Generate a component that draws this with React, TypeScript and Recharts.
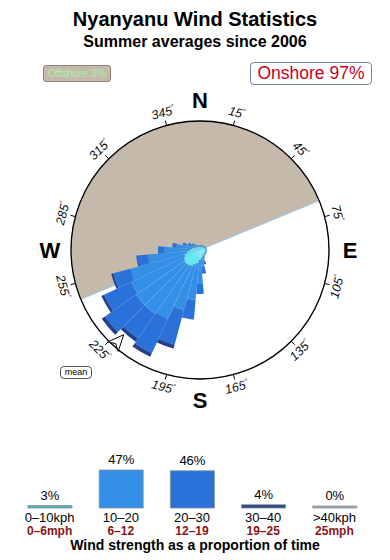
import React from 'react';
import {
  PieChart, Pie, Cell, RadialBarChart, RadialBar, PolarAngleAxis, PolarRadiusAxis,
  BarChart, Bar, XAxis, YAxis, LabelList,
} from 'recharts';

const FONT = '"Liberation Sans", Arial, Helvetica, sans-serif';

// ---- Wind rose data (percent of time per 10° direction, per speed bin) ----
const directions = [0, 10, 20, 30, 40, 50, 60, 70, 80, 90, 100, 110, 120, 130, 140, 150, 160, 170,
  180, 190, 200, 210, 220, 230, 240, 250, 260, 270, 280, 290, 300, 310, 320, 330, 340, 350];
const speed0to10 = [0.28, 0.28, 0.28, 0.33, 0.37, 0.37, 0.42, 0.47, 0.47, 0.47, 0.47, 0.47, 0.47, 0.47, 0.51, 0.56, 0.65, 0.74,
  0.93, 1.21, 1.40, 1.67, 1.77, 1.77, 1.67, 1.49, 1.21, 0.93, 0.74, 0.56, 0.47, 0.37, 0.37, 0.33, 0.28, 0.28];
const speed10to20 = [0.14, 0.14, 0.14, 0.09, 0.09, 0.09, 0.09, 0.09, 0.09, 0.14, 0.14, 0.14, 0.14, 0.14, 0.14, 0.19, 0.47, 0.74,
  2.23, 3.44, 4.37, 5.39, 5.49, 5.49, 5.39, 5.21, 3.63, 2.42, 1.49, 0.84, 0.47, 0.28, 0.19, 0.14, 0.14, 0.14];
const speed20to30 = [0.05, 0.05, 0.05, 0.05, 0.05, 0.05, 0.05, 0.05, 0.05, 0.05, 0.05, 0.05, 0.05, 0.05, 0.05, 0.09, 0.28, 0.74,
  0.93, 1.86, 3.35, 3.53, 2.79, 3.53, 2.79, 1.67, 1.02, 0.56, 0.37, 0.28, 0.28, 0.28, 0.09, 0.05, 0.05, 0.05];
const speed30to40 = [0, 0, 0, 0, 0, 0, 0, 0, 0, 0, 0, 0, 0, 0, 0, 0, 0, 0,
  0, 0, 0.37, 0.37, 0.37, 0.37, 0.28, 0.19, 0.09, 0, 0, 0, 0, 0, 0, 0, 0, 0];
const roseColors = ['#5ae6ef', '#3490e6', '#2a71d9', '#23408c'];
const roseMax = 12;

const roseData = directions.map((d, i) => ({
  dir: d,
  s1: speed0to10[i],
  s2: speed10to20[i],
  s3: speed20to30[i],
  s4: speed30to40[i],
}));

// ---- Offshore sector ----
const offshoreStartCompass = 247.5; // offshore half runs clockwise from 247.5° to 67.5°
const sectorSpans = [180, 180];
const sectorNames = ['Offshore', 'Onshore'];
const sectorColors = ['#c5b9ac', '#ffffff'];
const offshorePct = 3;
const onshorePct = 97;
const meanDirection = 222;

// ---- Compass labels ----
const degreeTicks = [15, 45, 75, 105, 135, 165, 195, 225, 255, 285, 315, 345];
const cardinalLabels = ['N', 'E', 'S', 'W'];

// ---- Speed distribution ----
const speedBinsKph = ['0–10kph', '10–20', '20–30', '30–40', '>40kph'];
const speedBinsMph = ['0–6mph', '6–12', '12–19', '19–25', '25mph'];
const speedShare = [3, 47, 46, 4, 0];
const speedColors = ['#4bb8b6', '#3490e6', '#2a72d9', '#2b4886', '#b0b0b0'];

const barData = speedBinsKph.map((k, i) => ({ kph: k, mph: speedBinsMph[i], share: speedShare[i] }));
const pieData = sectorSpans.map((v, i) => ({ name: sectorNames[i], value: v }));
const degreeData = degreeTicks.map((d) => ({ label: d, span: 30 }));
const cardinalData = cardinalLabels.map((c) => ({ label: c, span: 90 }));
const meanData = [{ label: 'mean', span: 2 }];

const CX = 200;
const CY = 170;
const R = 129;

const toXY = (cx: number, cy: number, r: number, mathAngle: number) => {
  const rad = (-mathAngle * Math.PI) / 180;
  return { x: cx + Math.cos(rad) * r, y: cy + Math.sin(rad) * r, ux: Math.cos(rad), uy: Math.sin(rad) };
};

function DegreeLabel(p: any) {
  const { cx, cy, midAngle, outerRadius, payload } = p;
  const v = payload.label as number;
  const compass = (((90 - midAngle) % 360) + 360) % 360;
  const rot = compass > 90 && compass < 270 ? compass - 180 : compass > 180 ? compass - 360 : compass;
  const a = toXY(cx, cy, outerRadius, midAngle);
  const b = toXY(cx, cy, outerRadius + 5, midAngle);
  const t = toXY(cx, cy, outerRadius + 13, midAngle);
  return (
    <g key={`deg-${v}`}>
      <line x1={a.x} y1={a.y} x2={b.x} y2={b.y} stroke="#000" strokeWidth={1} />
      <text transform={`translate(${t.x},${t.y}) rotate(${rot})`} textAnchor="middle" dominantBaseline="central"
        fontSize={12.5} fontStyle="italic" fontFamily={FONT} fill="#111">
        {v}<tspan fontSize={7} dy={-4}>°</tspan>
      </text>
    </g>
  );
}

function CardinalLabel(p: any) {
  const { cx, cy, midAngle, outerRadius, payload } = p;
  const t = toXY(cx, cy, outerRadius + 21, midAngle);
  return (
    <text key={`card-${payload.label}`} x={t.x} y={t.y} textAnchor="middle" dominantBaseline="central"
      fontSize={22} fontWeight="bold" fontFamily={FONT} fill="#000">{payload.label}</text>
  );
}

function MeanArrow(p: any) {
  const { cx, cy, midAngle } = p;
  const tip = toXY(cx, cy, 114, midAngle);
  const base = toXY(cx, cy, 130, midAngle);
  const notch = toXY(cx, cy, 126, midAngle);
  const tx = -base.uy;
  const ty = base.ux;
  const w = 7;
  const pts = [
    [tip.x, tip.y],
    [base.x + tx * w, base.y + ty * w],
    [notch.x, notch.y],
    [base.x - tx * w, base.y - ty * w],
  ].map((q) => q.join(',')).join(' ');
  return <polygon key="mean-arrow" points={pts} fill="#fff" stroke="#000" strokeWidth={1} />;
}

function SpeedTick(props: any) {
  const { x, y, payload, index } = props;
  return (
    <g>
      <text x={x} y={y + 6} textAnchor="middle" fontSize={13} fontFamily={FONT} fill="#000">{payload.value}</text>
      <text x={x} y={y + 19} textAnchor="middle" fontSize={12} fontWeight="bold" fontFamily={FONT} fill="#8b1515">{speedBinsMph[index]}</text>
    </g>
  );
}

export default function App() {
  return (
    <div style={{ position: 'absolute', left: 0, top: 0, width: 390, height: 560, background: '#fff', fontFamily: FONT, overflow: 'hidden' }}>
      <div style={{ position: 'absolute', left: 0, top: 7, width: 390, textAlign: 'center', fontSize: 20, fontWeight: 'bold', lineHeight: '24px' }}>
        Nyanyanu Wind Statistics
      </div>
      <div style={{ position: 'absolute', left: 0, top: 32, width: 390, textAlign: 'center', fontSize: 16, fontWeight: 'bold', lineHeight: '19px' }}>
        Summer averages since 2006
      </div>
      <div style={{ position: 'absolute', left: 43, top: 65, width: 66, height: 15, background: '#c5b9ac', border: '1px solid #8f8476', borderRadius: 3, color: '#aaf4a0', fontSize: 10.5, lineHeight: '15px', textAlign: 'center', whiteSpace: 'nowrap' }}>
        {`Offshore ${offshorePct}%`}
      </div>
      <div style={{ position: 'absolute', left: 250, top: 62, width: 120, height: 21, background: '#fff', border: '1px solid #6a86aa', borderRadius: 4, color: '#c8001c', fontSize: 17.5, lineHeight: '21px', textAlign: 'center', whiteSpace: 'nowrap' }}>
        {`Onshore ${onshorePct}%`}
      </div>

      <div style={{ position: 'absolute', left: 0, top: 80, width: 390, height: 340 }}>
        <PieChart width={390} height={340} margin={{ top: 0, right: 0, bottom: 0, left: 0 }}>
          <Pie data={pieData} dataKey="value" nameKey="name" cx={CX} cy={CY} innerRadius={0} outerRadius={R}
            startAngle={90 - offshoreStartCompass} endAngle={90 - offshoreStartCompass - 360}
            stroke="#9fc6e6" strokeWidth={1} isAnimationActive={false} label={false}>
            {pieData.map((d, i) => <Cell key={d.name} fill={sectorColors[i]} />)}
          </Pie>
        </PieChart>
      </div>

      <div style={{ position: 'absolute', left: 0, top: 80, width: 390, height: 340 }}>
        <RadialBarChart width={390} height={340} data={roseData} layout="centric" cx={CX} cy={CY}
          innerRadius={0} outerRadius={R} startAngle={85} endAngle={-275} barCategoryGap="0%" barGap={0}
          margin={{ top: 0, right: 0, bottom: 0, left: 0 }}>
          <PolarAngleAxis dataKey="dir" type="category" tick={false} tickLine={false} axisLineType="circle"
            axisLine={{ stroke: '#000', strokeWidth: 1.3 }} />
          <PolarRadiusAxis type="number" domain={[0, roseMax]} tick={false} axisLine={false} />
          <RadialBar dataKey="s1" stackId="a" fill={roseColors[0]} isAnimationActive={false} />
          <RadialBar dataKey="s2" stackId="a" fill={roseColors[1]} isAnimationActive={false} />
          <RadialBar dataKey="s3" stackId="a" fill={roseColors[2]} isAnimationActive={false} />
          <RadialBar dataKey="s4" stackId="a" fill={roseColors[3]} isAnimationActive={false} />
        </RadialBarChart>
      </div>

      <div style={{ position: 'absolute', left: 0, top: 80, width: 390, height: 340 }}>
        <PieChart width={390} height={340} margin={{ top: 0, right: 0, bottom: 0, left: 0 }}>
          <Pie data={degreeData} dataKey="span" nameKey="label" cx={CX} cy={CY} innerRadius={R - 1} outerRadius={R}
            startAngle={90} endAngle={-270} fill="none" stroke="none" isAnimationActive={false}
            labelLine={false} label={DegreeLabel} />
          <Pie data={cardinalData} dataKey="span" nameKey="label" cx={CX} cy={CY} innerRadius={R - 1} outerRadius={R}
            startAngle={135} endAngle={-225} fill="none" stroke="none" isAnimationActive={false}
            labelLine={false} label={CardinalLabel} />
          <Pie data={meanData} dataKey="span" nameKey="label" cx={CX} cy={CY} innerRadius={R - 1} outerRadius={R}
            startAngle={90 - meanDirection + 1} endAngle={90 - meanDirection - 1} fill="none" stroke="none"
            isAnimationActive={false} labelLine={false} label={MeanArrow} />
        </PieChart>
      </div>

      <div style={{ position: 'absolute', left: 60, top: 366, width: 30, height: 11, border: '1px solid #555', borderRadius: 4, fontSize: 9, lineHeight: '11px', textAlign: 'center', background: '#fff' }}>
        mean
      </div>

      <div style={{ position: 'absolute', left: 0, top: 440, width: 390, height: 120 }}>
        <BarChart width={390} height={120} data={barData} margin={{ top: 30, right: 20, left: 14, bottom: 0 }}>
          <YAxis hide domain={[0, 47]} />
          <XAxis dataKey="kph" height={52} axisLine={false} tickLine={false} interval={0} tick={<SpeedTick />} />
          <Bar dataKey="share" barSize={44} minPointSize={2} isAnimationActive={false} stroke="#7d8a99" strokeWidth={0.8}>
            {barData.map((d, i) => <Cell key={d.kph} fill={speedColors[i]} />)}
            <LabelList dataKey="share" position="top" offset={6} formatter={(v: any) => `${v}%`}
              style={{ fontSize: 13, fill: '#000', fontFamily: FONT }} />
          </Bar>
        </BarChart>
      </div>

      <div style={{ position: 'absolute', left: 0, top: 537, width: 390, textAlign: 'center', fontSize: 14, fontWeight: 'bold', lineHeight: '17px' }}>
        Wind strength as a proportion of time
      </div>
    </div>
  );
}
